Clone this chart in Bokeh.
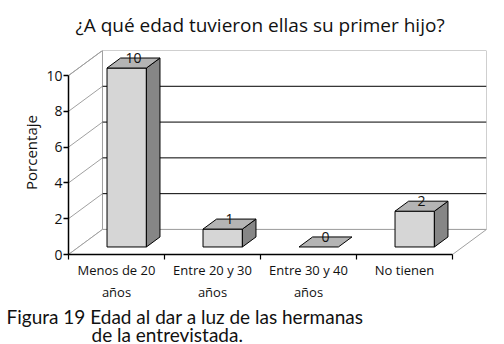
from bokeh.plotting import figure
from bokeh.models import Range1d, FixedTicker, Title, ColumnDataSource
from bokeh.core.properties import value
from bokeh.embed import file_html
from bokeh.resources import INLINE

# ---- data ----
title_text = "¿A qué edad tuvieron ellas su primer hijo?"
categories = ["Menos de 20\naños", "Entre 20 y 30\naños", "Entre 30 y 40\naños", "No tienen"]
values = [10, 1, 0, 2]
y_ticks = [0, 2, 4, 6, 8, 10]
y_label = "Porcentaje"
caption_lines = ["Figura 19 Edad al dar a luz de las hermanas", "de la entrevistada."]

# ---- style / geometry ----
FONT = "Open Sans"
CAP_FONT = "Lato"
W, H = 504, 344
BL, BR, BT, BB = 68, 18, 50, 90
N = len(categories)
YMAX = max(y_ticks)
DX, DY = 0.354, 1.40      # depth of the 3D box in data units
BW = 0.41                 # bar width
F0, F1 = 0.3, 0.7         # bar front/back depth fractions
FRONT, TOP, SIDE = "#d6d6d6", "#b4b4b4", "#868686"
WALL = "#a0a0a0"
INK = "#111111"

p = figure(width=W, height=H, output_backend="svg", toolbar_location=None,
           x_range=Range1d(0, N + DX), y_range=Range1d(0, YMAX + DY),
           min_border_left=BL, min_border_right=BR, min_border_top=BT, min_border_bottom=BB)
p.outline_line_color = None
p.grid.visible = False
p.background_fill_color = "white"

# ---- walls ----
p.patch([0, DX, DX, 0], [0, DY, YMAX + DY, YMAX], fill_color="white", line_color=WALL, line_width=1)
p.patch([DX, N + DX, N + DX, DX], [DY, DY, YMAX + DY, YMAX + DY], fill_color="white", line_color=WALL, line_width=1)
p.patch([0, N, N + DX, DX], [0, 0, DY, DY], fill_color="white", line_color=WALL, line_width=1)

grid_vals = [t for t in y_ticks if 0 < t < YMAX]
p.segment(x0=[DX] * len(grid_vals), y0=[t + DY for t in grid_vals],
          x1=[N + DX] * len(grid_vals), y1=[t + DY for t in grid_vals],
          line_color="black", line_width=1)
diag_vals = [t for t in y_ticks if t > 0]
p.segment(x0=[0] * len(diag_vals), y0=diag_vals,
          x1=[DX] * len(diag_vals), y1=[t + DY for t in diag_vals],
          line_color=WALL, line_width=1)

# ---- bars ----
fx, fy, tx, ty, sx, sy = [], [], [], [], [], []
ddx, ddy = (F1 - F0) * DX, (F1 - F0) * DY
for i, v in enumerate(values):
    x0 = i + 0.5 - BW / 2 + F0 * DX
    x1 = x0 + BW
    y0 = F0 * DY
    y1 = y0 + v
    tx.append([x0, x1, x1 + ddx, x0 + ddx]); ty.append([y1, y1, y1 + ddy, y1 + ddy])
    if v > 0:
        fx.append([x0, x1, x1, x0]); fy.append([y0, y0, y1, y1])
        sx.append([x1, x1 + ddx, x1 + ddx, x1]); sy.append([y0, y0 + ddy, y1 + ddy, y1])
p.patches(fx, fy, fill_color=FRONT, line_color="black", line_width=1)
p.patches(sx, sy, fill_color=SIDE, line_color="black", line_width=1)
p.patches(tx, ty, fill_color=TOP, line_color="black", line_width=1)

lab = ColumnDataSource(dict(
    x=[i + 0.5 + 0.5 * DX for i in range(N)],
    y=[v + F1 * DY for v in values],
    t=[str(v) for v in values]))
p.text(x="x", y="y", text="t", source=lab, text_align="center", text_baseline="middle",
       text_font=value(FONT), text_font_size="14px", text_color=INK)

# ---- axes ----
ya = p.yaxis[0]
ya.ticker = FixedTicker(ticks=y_ticks)
ya.bounds = (0, YMAX)
ya.axis_line_width = 1.5
ya.axis_line_color = "black"
ya.major_tick_out = 5
ya.major_tick_in = 0
ya.major_tick_line_width = 1.5
ya.minor_tick_line_color = None
ya.major_label_text_font = FONT
ya.major_label_text_font_size = "14px"
ya.major_label_text_color = INK
ya.major_label_standoff = 1
ya.axis_label = y_label
ya.axis_label_text_font = FONT
ya.axis_label_text_font_size = "15px"
ya.axis_label_text_font_style = "normal"
ya.axis_label_text_color = INK
ya.axis_label_standoff = 2

xa = p.xaxis[0]
centers = [i + 0.5 for i in range(N)]
xa.ticker = FixedTicker(ticks=centers, minor_ticks=list(range(N + 1)))
xa.bounds = (0, N)
xa.axis_line_width = 1.5
xa.axis_line_color = "black"
xa.major_tick_in = 0
xa.major_tick_out = 0
xa.minor_tick_in = 0
xa.minor_tick_out = 5
xa.minor_tick_line_color = "black"
xa.minor_tick_line_width = 1.2
xa.major_label_overrides = {c: lbl for c, lbl in zip(centers, categories)}
xa.major_label_text_font = FONT
xa.major_label_text_font_size = "13px"
xa.major_label_text_color = INK
xa.major_label_standoff = 1
xa.major_label_text_line_height = 1.25

# ---- title & caption ----
p.title.text = title_text
p.title.align = "left"
p.title.offset = 7
p.title.standoff = 22
p.title.vertical_align = "top"
p.title.text_font = FONT
p.title.text_font_size = "19px"
p.title.text_font_style = "normal"
p.title.text_color = INK

cap1 = Title(text=caption_lines[0], align="left", offset=-62, standoff=-4,
             text_font=CAP_FONT, text_font_size="19px", text_font_style="normal", text_color=INK)
cap2 = Title(text=caption_lines[1], align="left", offset=23, standoff=-10,
             text_font=CAP_FONT, text_font_size="19px", text_font_style="normal", text_color=INK)
p.add_layout(cap1, "below")
p.add_layout(cap2, "below")

open("out.html", "w").write(file_html(p, INLINE))
